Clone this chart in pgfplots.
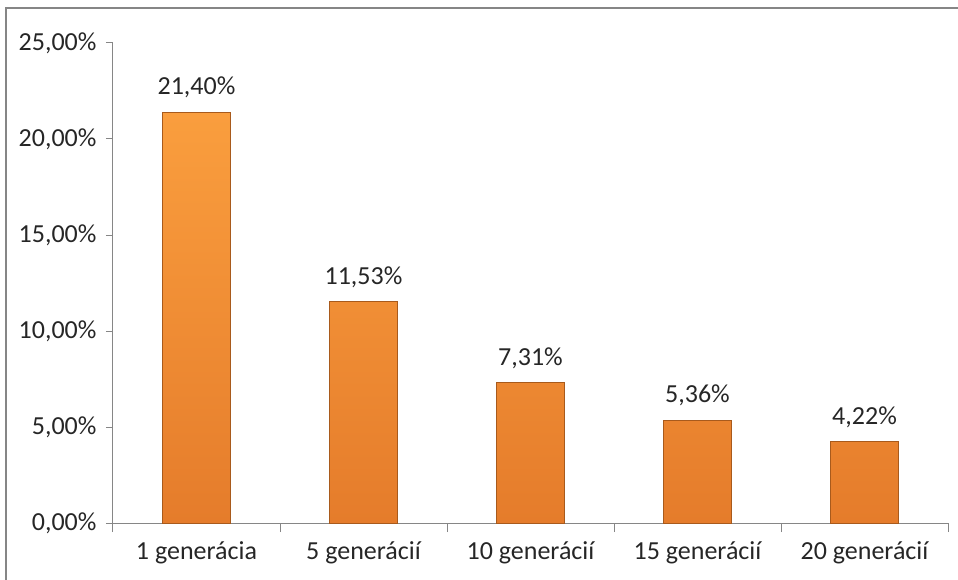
\documentclass[border=0pt]{standalone}
\usepackage{pgfplots}
\pgfplotsset{compat=1.18}
\usepackage{fontspec}
\setmainfont{Carlito}
\definecolor{axisgray}{HTML}{868686}
\definecolor{txt}{HTML}{262626}
\definecolor{bartop}{HTML}{FA9E3E}
\definecolor{barbot}{HTML}{E57C2B}
\definecolor{baredge}{HTML}{A85A1C}
\begin{document}
\begin{tikzpicture}
\begin{axis}[
  name=ax,
  scale only axis,
  width=835pt, height=480pt,
  xmin=-0.5, xmax=4.5,
  ymin=0, ymax=25,
  axis x line*=bottom,
  axis y line*=left,
  axis line style={axisgray, line width=1pt, -},
  xtick={0,1,2,3,4},
  xticklabels={1 generácia,5 generácií,10 generácií,15 generácií,20 generácií},
  minor xtick={-0.5,0.5,1.5,2.5,3.5,4.5},
  major x tick style={draw=none},
  minor x tick style={axisgray, line width=1pt},
  minor tick length=9pt,
  ytick={0,5,10,15,20,25},
  yticklabels={{0,00\%},{5,00\%},{10,00\%},{15,00\%},{20,00\%},{25,00\%}},
  y tick style={axisgray, line width=1pt},
  major tick length=7pt,
  tick align=outside,
  font=\fontsize{26}{30}\selectfont,
  tick label style={txt, font=\fontsize{26}{30}\selectfont},
  yticklabel style={xshift=-6pt},
  xticklabel style={yshift=-8pt},
  ybar, bar width=68pt,
  point meta=explicit symbolic,
  nodes near coords,
  nodes near coords style={txt, font=\fontsize{26}{30}\selectfont, yshift=10pt},
  clip=false,
]
\addplot[ybar, top color=bartop, bottom color=barbot, draw=baredge, line width=1pt]
  coordinates {(0,21.40) [21,40\%] (1,11.53) [11,53\%] (2,7.31) [7,31\%] (3,5.36) [5,36\%] (4,4.22) [4,22\%]};
\end{axis}
\draw[axisgray, line width=1.5pt] ([xshift=-107pt,yshift=-80pt]ax.south west) |- ([xshift=30pt,yshift=35pt]ax.north east);
\pgfresetboundingbox
\useasboundingbox ([xshift=-113pt,yshift=-56pt]ax.south west) rectangle ([xshift=10pt,yshift=43pt]ax.north east);
\end{tikzpicture}
\end{document}
